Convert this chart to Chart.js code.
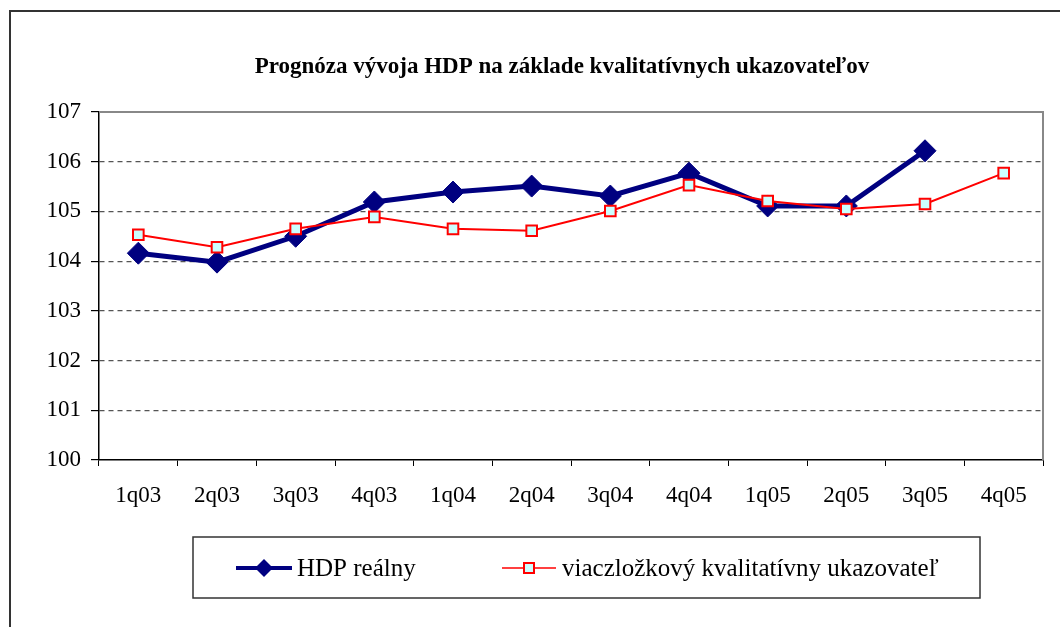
<!DOCTYPE html>
<html>
<head>
<meta charset="utf-8">
<script src="https://cdn.jsdelivr.net/npm/chart.js@4"></script>
<style>
  html, body { margin: 0; padding: 0; background: #fff; }
  canvas { display: block; }
</style>
</head>
<body>
<canvas id="chart" width="1060" height="627"></canvas>
<script>
const title = 'Prognóza vývoja HDP na základe kvalitatívnych ukazovateľov';
const quarters = ['1q03', '2q03', '3q03', '4q03', '1q04', '2q04', '3q04', '4q04', '1q05', '2q05', '3q05', '4q05'];
const hdpLabel = 'HDP reálny';
const hdpValues = [104.16, 103.98, 104.5, 105.19, 105.39, 105.51, 105.31, 105.77, 105.11, 105.11, 106.22, null];
const indLabel = 'viaczložkový kvalitatívny ukazovateľ';
const indValues = [104.53, 104.28, 104.65, 104.89, 104.65, 104.61, 105.01, 105.53, 105.21, 105.05, 105.15, 105.77];
const yTicks = [100, 101, 102, 103, 104, 105, 106, 107];

const serif = "'Liberation Serif', 'Times New Roman', serif";
const navy = '#000080';
const red = '#ff0000';
const cyan = '#ccffff';

// frame, plot border, title and legend box
const decor = {
  id: 'decor',
  beforeDraw(chart) {
    const ctx = chart.ctx;
    ctx.save();
    ctx.strokeStyle = '#333';
    ctx.lineWidth = 2;
    ctx.strokeRect(10, 11, 1200, 800);
    ctx.restore();
  },
  afterDraw(chart) {
    const ctx = chart.ctx;
    const a = chart.chartArea;
    ctx.save();
    // plot area border (top + right)
    ctx.strokeStyle = '#888';
    ctx.lineWidth = 2;
    ctx.beginPath();
    ctx.moveTo(a.left, a.top);
    ctx.lineTo(a.right, a.top);
    ctx.lineTo(a.right, a.bottom);
    ctx.stroke();

    // title
    ctx.fillStyle = '#000';
    ctx.font = 'bold 23px ' + serif;
    ctx.textAlign = 'center';
    ctx.textBaseline = 'middle';
    ctx.fillText(title, 562, 67);

    // legend
    ctx.strokeStyle = '#333';
    ctx.lineWidth = 1.5;
    ctx.strokeRect(193, 537, 787, 61);
    const ly = 568;
    ctx.strokeStyle = navy;
    ctx.lineWidth = 4;
    ctx.beginPath();
    ctx.moveTo(236, ly);
    ctx.lineTo(292, ly);
    ctx.stroke();
    ctx.fillStyle = navy;
    ctx.beginPath();
    ctx.moveTo(264, ly - 9);
    ctx.lineTo(273, ly);
    ctx.lineTo(264, ly + 9);
    ctx.lineTo(255, ly);
    ctx.closePath();
    ctx.fill();

    ctx.strokeStyle = red;
    ctx.lineWidth = 1.5;
    ctx.beginPath();
    ctx.moveTo(502, ly);
    ctx.lineTo(556, ly);
    ctx.stroke();
    ctx.fillStyle = cyan;
    ctx.fillRect(524, ly - 5, 10, 10);
    ctx.lineWidth = 2;
    ctx.strokeRect(524, ly - 5, 10, 10);

    ctx.fillStyle = '#000';
    ctx.font = '25px ' + serif;
    ctx.textAlign = 'left';
    ctx.fillText(hdpLabel, 297, ly + 1);
    ctx.fillText(indLabel, 562, ly + 1);
    ctx.restore();
  }
};

new Chart(document.getElementById('chart'), {
  type: 'line',
  data: {
    labels: quarters,
    datasets: [
      {
        label: hdpLabel,
        data: hdpValues,
        borderColor: navy,
        backgroundColor: navy,
        borderWidth: 5,
        pointStyle: 'rectRot',
        pointRadius: 11,
        pointBorderWidth: 1,
        pointBorderColor: navy,
        pointBackgroundColor: navy,
        tension: 0,
        order: 1
      },
      {
        label: indLabel,
        data: indValues,
        borderColor: red,
        borderWidth: 2,
        pointStyle: 'rect',
        pointRadius: 7.5,
        pointBorderWidth: 2,
        pointBorderColor: red,
        pointBackgroundColor: cyan,
        tension: 0,
        order: 0
      }
    ]
  },
  options: {
    responsive: false,
    animation: false,
    events: [],
    layout: { padding: { top: 112, left: 0, right: 17, bottom: 107 } },
    plugins: {
      legend: { display: false },
      title: { display: false },
      tooltip: { enabled: false }
    },
    scales: {
      x: {
        offset: true,
        afterFit: s => { s.height = 60; },
        grid: {
          offset: true,
          drawOnChartArea: false,
          drawTicks: true,
          tickLength: 6,
          tickColor: '#000'
        },
        border: { color: '#000', width: 1.5 },
        ticks: {
          color: '#000',
          font: { family: serif, size: 23 },
          padding: 16,
          maxRotation: 0,
          autoSkip: false
        }
      },
      y: {
        min: yTicks[0],
        max: yTicks[yTicks.length - 1],
        afterFit: s => { s.width = 99; },
        afterBuildTicks: s => { s.ticks = yTicks.map(v => ({ value: v })); },
        grid: {
          color: c => (c.tick && (c.tick.value === 100 || c.tick.value === 107)) ? 'rgba(0,0,0,0)' : '#555',
          lineWidth: 1.2,
          drawTicks: true,
          tickLength: 8,
          tickColor: '#000',
          tickWidth: 1.2
        },
        border: { color: '#000', width: 1.5, dash: [5, 4] },
        ticks: {
          color: '#000',
          font: { family: serif, size: 23 },
          padding: 10
        }
      }
    }
  },
  plugins: [decor]
});
</script>
</body>
</html>
